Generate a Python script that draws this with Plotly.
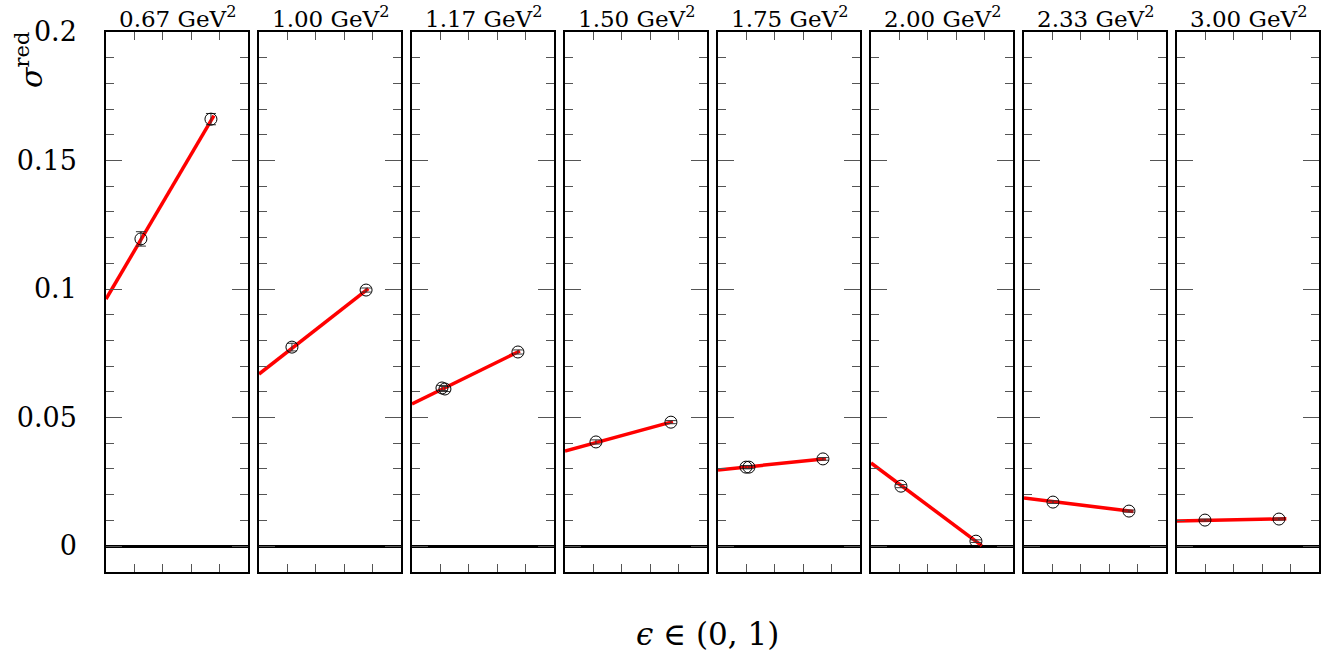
import plotly.graph_objects as go

# ---------------- data ----------------
q2_labels = ["0.67", "1.00", "1.17", "1.50", "1.75", "2.00", "2.33", "3.00"]

eps_points = [
    [0.246, 0.739],
    [0.232, 0.754],
    [0.211, 0.232, 0.746],
    [0.218, 0.746],
    [0.197, 0.218, 0.739],
    [0.211, 0.739],
    [0.204, 0.739],
    [0.197, 0.718],
]
sigma_points = [
    [0.1195, 0.1661],
    [0.0774, 0.0996],
    [0.0615, 0.0611, 0.0755],
    [0.0405, 0.0482],
    [0.0307, 0.0307, 0.0339],
    [0.0233, 0.0019],
    [0.0171, 0.0136],
    [0.0101, 0.0105],
]
sigma_errors = [
    [0.0028, 0.0022],
    [0.0015, 0.0008],
    [0.0010, 0.0010, 0.0008],
    [0.0008, 0.0006],
    [0.0006, 0.0006, 0.0005],
    [0.0006, 0.0005],
    [0.0005, 0.0004],
    [0.0004, 0.0004],
]
# linear fit lines: value at eps=0 and at the end point
fit_y0 = [0.0961, 0.0669, 0.0553, 0.0370, 0.0296, 0.0323, 0.0187, 0.0097]
fit_x1 = [0.76, 0.77, 0.76, 0.76, 0.76, 0.78, 0.77, 0.77]
fit_y1 = [0.1675, 0.1002, 0.0759, 0.0484, 0.0340, 0.0002, 0.0134, 0.0106]

y_ticks = [0, 0.05, 0.1, 0.15, 0.2]
y_ticktext = ["0", "0.05", "0.1", "0.15", "0.2"]
x_ticks = [0.2, 0.4, 0.6, 0.8]

# ---------------- layout geometry ----------------
W, H = 1336, 656
left0, pw, step = 106, 142, 153
top_px, bot_px = 32, 572
ydom = [1 - bot_px / H, 1 - top_px / H]
FONT = "DejaVu Serif"

fig = go.Figure()
annotations = []
layout = {}

for i in range(8):
    xa = "x" if i == 0 else f"x{i+1}"
    ya = "y" if i == 0 else f"y{i+1}"
    xkey = "xaxis" if i == 0 else f"xaxis{i+1}"
    ykey = "yaxis" if i == 0 else f"yaxis{i+1}"
    l = (left0 + step * i) / W
    r = (left0 + step * i + pw) / W

    fig.add_trace(go.Scatter(
        x=[0, fit_x1[i]], y=[fit_y0[i], fit_y1[i]], mode="lines",
        line=dict(color="#ff0000", width=3.5), xaxis=xa, yaxis=ya,
        showlegend=False, hoverinfo="skip"))
    fig.add_trace(go.Scatter(
        x=eps_points[i], y=sigma_points[i], mode="markers",
        marker=dict(symbol="circle-open", size=12, color="black",
                    line=dict(width=1, color="black")),
        error_y=dict(type="data", array=sigma_errors[i], color="#333",
                     thickness=1, width=5),
        xaxis=xa, yaxis=ya, showlegend=False))

    layout[xkey] = dict(
        domain=[l, r], range=[0, 1], anchor=ya, automargin=False,
        showline=True, linecolor="black", linewidth=1.5, mirror="ticks",
        ticks="inside", tickvals=x_ticks, ticklen=8, tickcolor="#555",
        tickwidth=1, showticklabels=False, showgrid=False, zeroline=False)
    layout[ykey] = dict(
        domain=ydom, range=[-0.0101, 0.2], anchor=xa, automargin=False,
        showline=True, linecolor="black", linewidth=1.5, mirror="ticks",
        ticks="inside", tickvals=y_ticks, ticktext=y_ticktext, ticklen=16,
        tickcolor="#555", tickwidth=1, ticklabelstandoff=22,
        minor=dict(dtick=0.01, ticklen=8, tickcolor="#555", tickwidth=1,
                   ticks="inside", showgrid=False),
        showticklabels=(i == 0), showgrid=False,
        zeroline=True, zerolinecolor="black", zerolinewidth=3,
        tickfont=dict(family=FONT, size=27, color="black"))

    annotations.append(dict(
        x=(l + r) / 2, y=ydom[1], xref="paper", yref="paper",
        xanchor="center", yanchor="bottom", yshift=-2, showarrow=False,
        text=f"{q2_labels[i]} GeV<sup>2</sup>",
        font=dict(family=FONT, size=23, color="black")))

annotations.append(dict(
    x=30 / W, y=1 - 60 / H, xref="paper", yref="paper",
    xanchor="center", yanchor="middle", showarrow=False, textangle=-90,
    text="<i>σ</i><sup>red</sup>",
    font=dict(family=FONT, size=30, color="black")))
annotations.append(dict(
    x=707 / W, y=1 - 634 / H, xref="paper", yref="paper",
    xanchor="center", yanchor="middle", showarrow=False,
    text="<i>ϵ</i> ∈ (0, 1)",
    font=dict(family=FONT, size=31, color="black")))

fig.update_layout(
    width=W, height=H, margin=dict(l=0, r=0, t=0, b=0),
    paper_bgcolor="white", plot_bgcolor="white",
    annotations=annotations, **layout)

fig.write_html("out.html")
